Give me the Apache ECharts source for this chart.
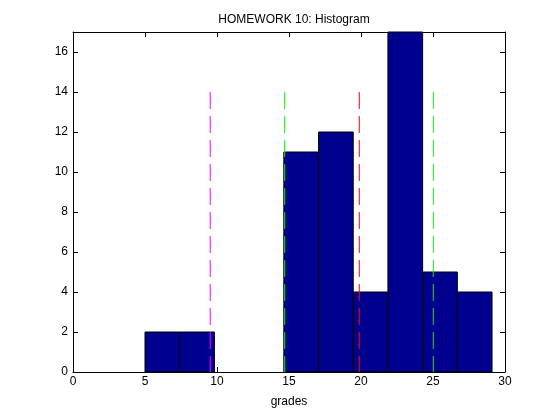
<!DOCTYPE html>
<html>
<head>
<meta charset="utf-8">
<script src="https://cdn.jsdelivr.net/npm/echarts@6/dist/echarts.min.js"></script>
<style>html,body{margin:0;padding:0;background:#fff}#c{width:560px;height:420px}</style>
</head>
<body>
<div id="c"></div>
<script>
// Histogram bins (edges) and counts
var binEdges = [5.0, 7.41, 9.82, 12.23, 14.64, 17.05, 19.46, 21.87, 24.28, 26.69, 29.1];
var counts = [2, 2, 0, 0, 11, 12, 4, 17, 5, 4];
// Reference lines: x position, height, colour
var refX = [9.53, 14.7, 19.88, 25.02];
var refHeight = [14, 14, 14, 14];
var refColors = ['#ff00ff', '#00ee00', '#ff0000', '#22dd22'];
var xTicks = [0, 5, 10, 15, 20, 25, 30];
var yTicks = [0, 2, 4, 6, 8, 10, 12, 14, 16];

var FONT = 'Liberation Sans';
var chart = echarts.init(document.getElementById('c'), null, {renderer: 'canvas'});

var histData = counts.map(function (c, i) { return [binEdges[i], binEdges[i + 1], c]; });

var series = [{
  type: 'custom',
  xAxisIndex: 0, yAxisIndex: 0,
  renderItem: function (params, api) {
    var p0 = api.coord([api.value(0), 0]);
    var p1 = api.coord([api.value(1), api.value(2)]);
    if (api.value(2) <= 0) return null;
    return {
      type: 'rect',
      shape: {x: p0[0], y: p1[1], width: p1[0] - p0[0], height: p0[1] - p1[1]},
      style: {fill: '#00008f', stroke: '#000', lineWidth: 1}
    };
  },
  encode: {x: [0, 1], y: 2},
  data: histData,
  z: 2
}];
refX.forEach(function (x, i) {
  series.push({
    type: 'line',
    xAxisIndex: 0, yAxisIndex: 0,
    data: [[x, refHeight[i]], [x, 0]],
    symbol: 'none',
    lineStyle: {color: refColors[i], width: 1, type: [17, 7]},
    z: 5,
    silent: true
  });
});

function axisLine() {
  return {show: true, onZero: false, lineStyle: {color: '#000', width: 1}};
}

chart.setOption({
  animation: false,
  backgroundColor: '#fff',
  title: {
    text: 'HOMEWORK 10: Histogram',
    left: 289, top: 9, textAlign: 'center',
    textStyle: {fontFamily: FONT, fontSize: 12, fontWeight: 'normal', color: '#000'}
  },
  grid: {left: 73, right: 55, top: 32, bottom: 48, containLabel: false},
  xAxis: [{
    type: 'value', min: 0, max: 30, interval: 5, position: 'bottom',
    axisLine: axisLine(), splitLine: {show: false},
    name: 'grades', nameLocation: 'middle', nameGap: 24,
    nameTextStyle: {fontFamily: FONT, fontSize: 12, color: '#000'},
    axisTick: {show: true, inside: true, length: 5, lineStyle: {color: '#000'}, customValues: xTicks},
    axisLabel: {fontFamily: FONT, fontSize: 12, color: '#000', margin: 4, customValues: xTicks}
  }, {
    type: 'value', min: 0, max: 30, interval: 5, position: 'top',
    axisLine: axisLine(), splitLine: {show: false},
    axisTick: {show: true, inside: true, length: 5, lineStyle: {color: '#000'}, customValues: xTicks},
    axisLabel: {show: false}
  }],
  yAxis: [{
    type: 'value', min: 0, max: 17, interval: 1, position: 'left',
    axisLine: axisLine(), splitLine: {show: false},
    axisTick: {show: true, inside: true, length: 5, lineStyle: {color: '#000'}, customValues: yTicks},
    axisLabel: {fontFamily: FONT, fontSize: 12, color: '#000', margin: 5, customValues: yTicks}
  }, {
    type: 'value', min: 0, max: 17, interval: 1, position: 'right',
    axisLine: axisLine(), splitLine: {show: false},
    axisTick: {show: true, inside: true, length: 5, lineStyle: {color: '#000'}, customValues: yTicks},
    axisLabel: {show: false}
  }],
  series: series
});
</script>
</body>
</html>
